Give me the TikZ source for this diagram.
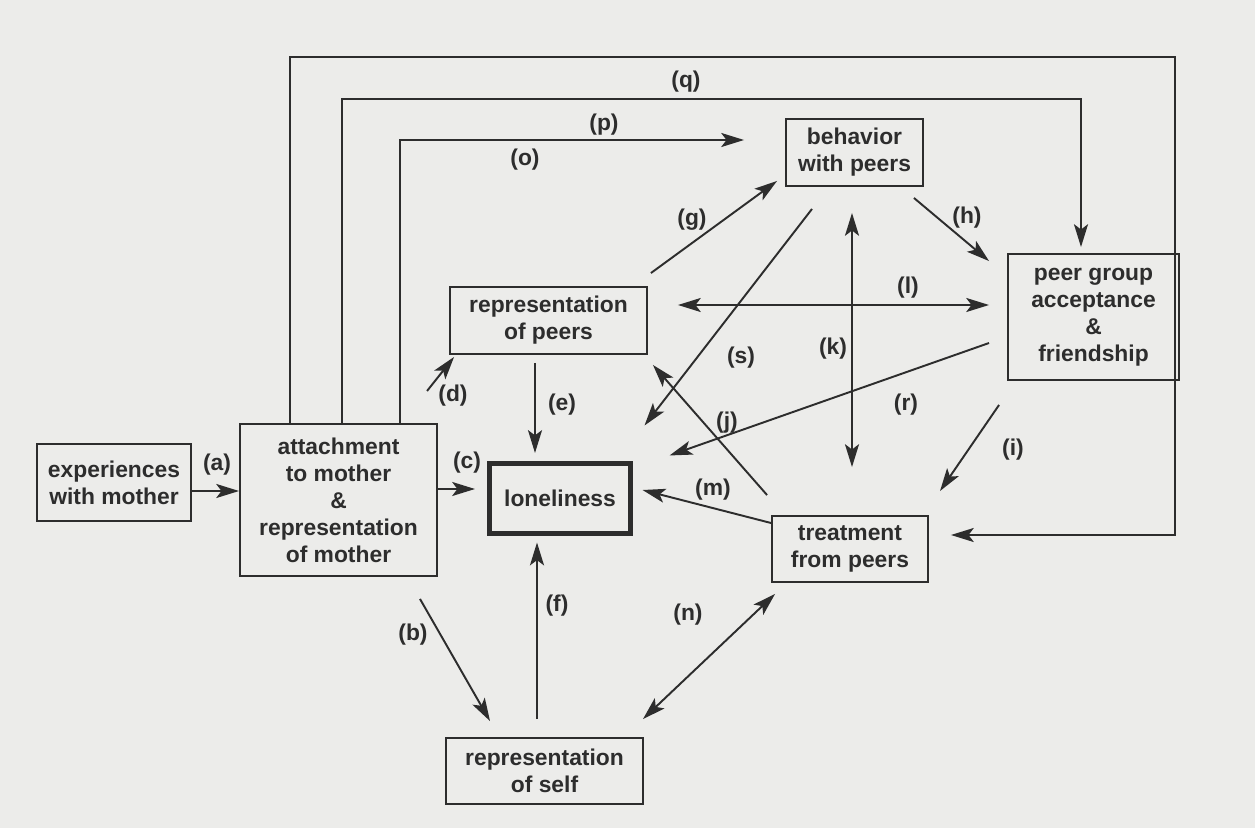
\documentclass[tikz,border=0pt]{standalone}
\usepackage{fontspec}
\setmainfont{Liberation Sans}
\usetikzlibrary{arrows.meta,calc}
\definecolor{bg}{RGB}{236,236,234}
\definecolor{ink}{RGB}{45,45,45}
\begin{document}
\begin{tikzpicture}[x=0.02cm,y=-0.02cm,
  font=\fontsize{13}{15.4}\selectfont\bfseries,
  box/.style={draw=ink,line width=1.1pt,align=center,text=ink,inner sep=0pt},
  lab/.style={text=ink,inner sep=0pt},
  arr/.style={draw=ink,line width=1.1pt,-{Stealth[length=13pt,width=8pt,inset=3pt]}},
  darr/.style={draw=ink,line width=1.1pt,{Stealth[length=13pt,width=8pt,inset=3pt]}-{Stealth[length=13pt,width=8pt,inset=3pt]}},
  ln/.style={draw=ink,line width=1.1pt}]
\fill[bg] (0,0) rectangle (1255,828);
\useasboundingbox (0,0) rectangle (1255,828);
% nodes
\node[box,minimum width=3.08cm,minimum height=1.54cm] (exp) at (114,482.5) {experiences\\with mother};
\node[box,minimum width=3.94cm,minimum height=3.04cm] (att) at (338.5,500) {attachment\\to mother\\\&\\representation\\of mother};
\node[box,minimum width=3.94cm,minimum height=1.34cm] (rp) at (548.5,320.5) {representation\\of peers};
\node[box,line width=2.9pt,minimum width=2.82cm,minimum height=1.4cm] (lon) at (560,498.5) {loneliness};
\node[box,minimum width=2.74cm,minimum height=1.34cm] (beh) at (854.5,152.5) {behavior\\with peers};
\node[box,minimum width=3.42cm,minimum height=2.52cm] (peer) at (1093.5,317) {peer group\\acceptance\\\&\\friendship};
\node[box,minimum width=3.12cm,minimum height=1.32cm] (trt) at (850,549) {treatment\\from peers};
\node[box,minimum width=3.94cm,minimum height=1.32cm] (self) at (544.5,771) {representation\\of self};
% connectors
\draw[arr] ($(exp.east)+(0,8.5)$) -- ($(att.west)+(0,-9)$);
\draw[arr] ($(att.east)+(0,-11)$) -- ($(lon.west)+(-12,-9.5)$);
\draw[arr] ($(rp.south west)+(-22,36)$) -- ($(rp.south west)+(5,2)$);
\draw[arr] ($(rp.south)+(-13.5,8)$) -- ($(lon.north)+(-25,-8)$);
\draw[arr] ($(self.north)+(-7.5,-18)$) -- ($(lon.south)+(-23,6.5)$);
\draw[arr] ($(att.south)+(81.5,22)$) -- ($(self.north)+(-54.5,-16)$);
\draw[darr] ($(self.north)+(98.5,-18)$) -- ($(trt.south west)+(4,11)$);
\draw[arr] ($(trt.west)+(0,-26)$) -- ($(lon.east)+(9.5,-8.5)$);
\draw[arr] ($(trt.north west)+(-4,-20)$) -- ($(rp.south east)+(5,10)$);
\draw[arr] ($(beh.south)+(-42.5,22)$) -- ($(lon.north east)+(11.5,-35.5)$);
\draw[arr] ($(peer.west)+(-18,26)$) -- ($(lon.north east)+(36.5,-5.5)$);
\draw[darr] ($(beh.south)+(-2.5,26)$) -- ($(trt.north)+(2,-48)$);
\draw[darr] ($(rp.east)+(30,-15.5)$) -- ($(peer.west)+(-18,-12)$);
\draw[arr] ($(rp.north east)+(3,-13)$) -- ($(beh.south west)+(-8,-6)$);
\draw[arr] ($(beh.south east)+(-10,11)$) -- ($(peer.north west)+(-18,8)$);
\draw[arr] ($(peer.south west)+(-8,24)$) -- ($(trt.north)+(90,-24)$);
\draw[arr] ($(att.north)+(61.5,0)$) |- ($(beh.west)+(-41,-12.5)$);
\draw[arr] ($(att.north)+(3.5,0)$) -- ++(0,-324) -| ($(peer.north)+(-12.5,-6)$);
\draw[arr] ($(att.north)+(-48.5,0)$) -- ++(0,-366) -- ++(885,0) |- ($(trt.east)+(22,-14)$);
% labels
\node[lab] (la) at (217,465) {(a)};
\node[lab] (lb) at (413,635) {(b)};
\node[lab] (lc) at (467,463) {(c)};
\node[lab] (ld) at (453,396) {(d)};
\node[lab] (le) at (562,405) {(e)};
\node[lab] (lf) at (557,606) {(f)};
\node[lab] (lg) at (692,220) {(g)};
\node[lab] (lh) at (967,218) {(h)};
\node[lab] (li) at (1013,450) {(i)};
\node[lab] (lj) at (727,423) {(j)};
\node[lab] (lk) at (833,349) {(k)};
\node[lab] (ll) at (908,288) {(l)};
\node[lab] (lm) at (713,490) {(m)};
\node[lab] (ln) at (688,615) {(n)};
\node[lab] (lo) at (525,160) {(o)};
\node[lab] (lp) at (604,125) {(p)};
\node[lab] (lq) at (686,82) {(q)};
\node[lab] (lr) at (906,405) {(r)};
\node[lab] (ls) at (741,358) {(s)};
\end{tikzpicture}
\end{document}
